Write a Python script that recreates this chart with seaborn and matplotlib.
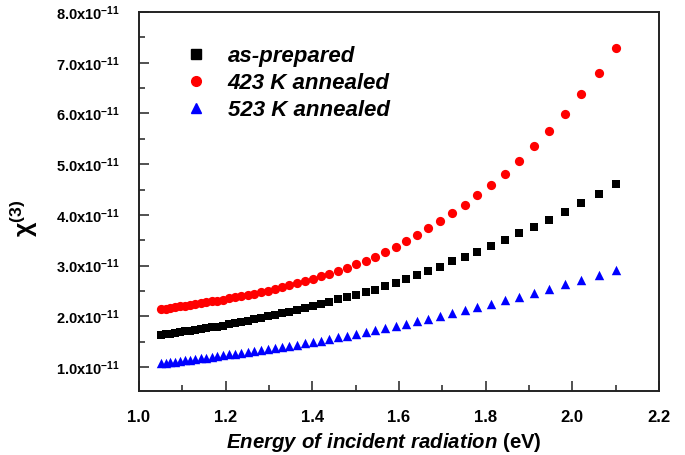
import numpy as np
import pandas as pd
import seaborn as sns
from matplotlib import pyplot as plt
from matplotlib.ticker import MultipleLocator, FuncFormatter
from matplotlib.lines import Line2D

# photon energy (eV), one point per wavelength step, high energy first
energy = [2.1017, 2.0605, 2.0209, 1.9827, 1.9460, 1.9106, 1.8765, 1.8436, 1.8118, 1.7811,
          1.7514, 1.7227, 1.6949, 1.6680, 1.6419, 1.6167, 1.5922, 1.5684, 1.5454, 1.5230,
          1.5012, 1.4801, 1.4595, 1.4395, 1.4201, 1.4011, 1.3827, 1.3647, 1.3472, 1.3302,
          1.3136, 1.2973, 1.2815, 1.2661, 1.2510, 1.2363, 1.2219, 1.2079, 1.1941, 1.1807,
          1.1676, 1.1548, 1.1422, 1.1299, 1.1179, 1.1062, 1.0946, 1.0833, 1.0723, 1.0615,
          1.0508]

# chi(3) in units of 1e-11
chi_as_prepared = [4.61, 4.42, 4.24, 4.06, 3.90, 3.76, 3.64, 3.51, 3.38, 3.27,
                   3.17, 3.09, 2.98, 2.89, 2.81, 2.73, 2.655, 2.59, 2.53, 2.48,
                   2.43, 2.38, 2.335, 2.29, 2.25, 2.21, 2.17, 2.13, 2.095, 2.065,
                   2.03, 2.00, 1.97, 1.94, 1.91, 1.89, 1.865, 1.845, 1.82, 1.80,
                   1.785, 1.77, 1.75, 1.735, 1.72, 1.705, 1.69, 1.675, 1.66, 1.645,
                   1.63]
chi_423K = [7.29, 6.80, 6.38, 5.99, 5.66, 5.35, 5.06, 4.81, 4.60, 4.39,
            4.20, 4.03, 3.88, 3.74, 3.61, 3.49, 3.375, 3.27, 3.18, 3.10,
            3.03, 2.96, 2.90, 2.84, 2.79, 2.74, 2.695, 2.65, 2.61, 2.575,
            2.54, 2.51, 2.48, 2.45, 2.42, 2.40, 2.375, 2.355, 2.33, 2.31,
            2.295, 2.28, 2.26, 2.245, 2.23, 2.215, 2.20, 2.185, 2.17, 2.155,
            2.14]
chi_523K = [2.92, 2.82, 2.72, 2.63, 2.545, 2.465, 2.39, 2.32, 2.25, 2.185,
            2.125, 2.065, 2.01, 1.95, 1.90, 1.855, 1.81, 1.77, 1.73, 1.69,
            1.655, 1.62, 1.585, 1.555, 1.525, 1.495, 1.47, 1.445, 1.42, 1.395,
            1.375, 1.355, 1.335, 1.315, 1.30, 1.28, 1.265, 1.25, 1.235, 1.22,
            1.205, 1.19, 1.175, 1.16, 1.15, 1.135, 1.125, 1.11, 1.10, 1.09,
            1.08]

labels = ["as-prepared", "423 K annealed", "523 K annealed"]
colors = ["#000000", "#ff0000", "#0000ff"]
markers = ["s", "o", "^"]
msizes = [34, 44, 46]

df = pd.concat([
    pd.DataFrame({"energy": energy, "chi": np.array(v) * 1e-11, "sample": lab})
    for v, lab in zip([chi_as_prepared, chi_423K, chi_523K], labels)
])

sns.set_style("ticks")
plt.rcParams["font.family"] = ["Liberation Sans", "DejaVu Sans"]
plt.rcParams["font.weight"] = "bold"
plt.rcParams["text.color"] = "black"
plt.rcParams["axes.labelcolor"] = "black"
plt.rcParams["xtick.color"] = "black"
plt.rcParams["ytick.color"] = "black"
plt.rcParams["mathtext.fontset"] = "custom"
plt.rcParams["mathtext.rm"] = "Liberation Sans:bold"
plt.rcParams["mathtext.bf"] = "Liberation Sans:bold"
plt.rcParams["mathtext.it"] = "Liberation Sans:bold:italic"
plt.rcParams["mathtext.default"] = "rm"

fig = plt.figure(figsize=(6.85, 4.55), dpi=100)
ax = fig.add_axes([139 / 685, 1 - 391 / 455, 520 / 685, 379 / 455])

for lab, c, m, s in zip(labels, colors, markers, msizes):
    sns.scatterplot(data=df[df["sample"] == lab], x="energy", y="chi", color=c,
                    marker=m, s=s, linewidth=0, ax=ax, legend=False)

ax.set_xlim(1.0, 2.2)
ax.set_ylim(0.53e-11, 8.0e-11)
ax.xaxis.set_major_locator(MultipleLocator(0.2))
ax.xaxis.set_minor_locator(MultipleLocator(0.1))
ax.yaxis.set_major_locator(MultipleLocator(1e-11))
ax.yaxis.set_minor_locator(MultipleLocator(0.5e-11))
ax.xaxis.set_major_formatter(FuncFormatter(lambda v, p: f"{v:.1f}"))
ax.yaxis.set_major_formatter(FuncFormatter(lambda v, p: f"{v / 1e-11:.1f}x10$^{{-11}}$"))

ax.tick_params(axis="both", which="both", direction="in", color="#222222")
ax.tick_params(axis="both", which="major", length=7.5, width=1.1)
ax.tick_params(axis="both", which="minor", length=4, width=1.1)
ax.tick_params(axis="x", which="major", labelsize=12, pad=14)
ax.tick_params(axis="y", which="major", labelsize=10.5, pad=14)
for sp in ax.spines.values():
    sp.set_visible(True)
    sp.set_linewidth(1.4)
    sp.set_color("#222222")
for lbl in ax.get_yticklabels():
    lbl.set_verticalalignment("center_baseline")

ax.set_xlabel(r"$\mathit{Energy\ of\ incident\ radiation}$ (eV)", fontsize=14.7, fontweight="bold")
ax.xaxis.set_label_coords(0.47, -0.105)
ax.set_ylabel(r"$\chi^{(3)}$", fontsize=18)
ax.yaxis.set_label_coords(-0.19, 0.455)

handles = [Line2D([], [], linestyle="none", marker=m, color=c, markersize=7)
           for c, m in zip(colors, markers)]
ax.legend(handles, labels, loc="upper left", bbox_to_anchor=(0.088, 0.911),
          frameon=False, borderpad=0, borderaxespad=0, labelspacing=0.28,
          handlelength=1.0, handletextpad=0.94,
          prop={"family": "Liberation Sans", "weight": "bold",
                "style": "italic", "size": 16})

fig.savefig("out.png", dpi=100)
